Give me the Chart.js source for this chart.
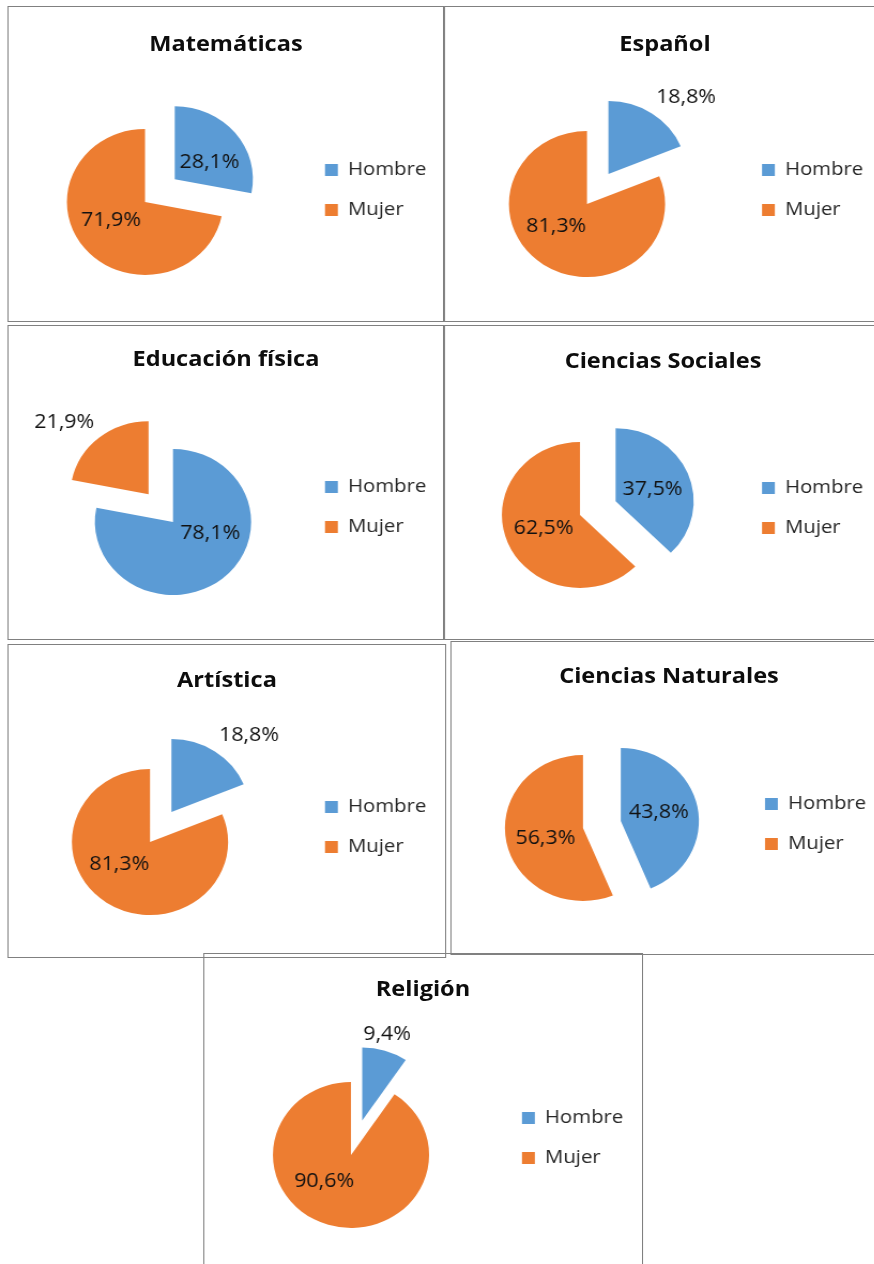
<!doctype html>
<html lang="es">
<head>
<meta charset="utf-8">
<title>Hombre / Mujer por asignatura</title>
<script src="https://cdn.jsdelivr.net/npm/chart.js@4.4.1/dist/chart.umd.min.js"></script>
<style>
	html, body { margin:0; padding:0; background:#fff; }
	body { width:874px; height:1264px; overflow:hidden; font-family:"Open Sans", sans-serif; }
	/* the original picture is a little wider than tall, so the whole sheet is stretched */
	#sheet { position:relative; height:1264px; transform-origin:0 0; }
	.box { position:absolute; box-sizing:border-box; border:1px solid #808080; }
	.title { position:absolute; transform:translate(-50%, -50%); white-space:nowrap; line-height:1;
		font-weight:bold; font-size:22px; color:#0d0d0d; }
	canvas { position:absolute; }
</style>
</head>
<body>
<div id="sheet"></div>
<script>
// data (percent of each group)
const subjects = ['Matemáticas', 'Español', 'Educación física', 'Ciencias Sociales', 'Artística', 'Ciencias Naturales', 'Religión'];
const sexes = ['Hombre', 'Mujer'];
const hombre = [28.1, 18.8, 78.1, 37.5, 18.8, 43.8, 9.4];
const mujer = [71.9, 81.3, 21.9, 62.5, 81.3, 56.3, 90.6];

const blue = '#5B9BD5';
const orange = '#ED7D31';

// page layout (page pixels): frame [left, top, right, bottom], pie centre, legend swatch x, first legend row y, title y
const panels = [
	{ frame:[8, 6, 444, 322],      cx:145, cy:202,  legX:325, legY:170,  titleY:42 },
	{ frame:[444, 6, 886, 322],    cx:587, cy:204,  legX:762, legY:170,  titleY:42 },
	{ frame:[8, 325, 444, 640],    cx:173, cy:522,  legX:325, legY:487,  titleY:357 },
	{ frame:[444, 325, 882, 640],  cx:580, cy:515,  legX:762, legY:488,  titleY:359 },
	{ frame:[8, 644, 446, 958],    cx:150, cy:842,  legX:325, legY:807,  titleY:678 },
	{ frame:[450, 641, 888, 955],  cx:583, cy:828,  legX:765, legY:804,  titleY:674 },
	{ frame:[203, 953, 643, 1270], cx:351, cy:1155, legX:522, legY:1118, titleY:987 }
];

const SX = 1.07;       // horizontal stretch of the sheet
const R = 73;          // pie radius
const EXPLODE = 36;    // how far the small slice is pulled out
const LEG_FONT = 19;
const LEG_PAD = 21;
const BOX = 12;
const FONT = '"Open Sans", sans-serif';

const sheet = document.getElementById('sheet');
sheet.style.width = (874 / SX) + 'px';
sheet.style.transform = 'scaleX(' + SX + ')';

// width the legend will ask for
const measure = document.createElement('canvas').getContext('2d');
measure.font = LEG_FONT + 'px ' + FONT;
const textW = Math.max(...sexes.map(s => measure.measureText(s).width));
const legW = LEG_PAD + BOX + LEG_FONT / 2 + textW + 10;

// pull the smaller slice out along its bisector
const explode = {
	id: 'explode',
	afterDatasetsUpdate(chart, args, opts) {
		const values = chart.data.datasets[0].data;
		const small = values.indexOf(Math.min(...values));
		const arc = chart.getDatasetMeta(0).data[small];
		const mid = (arc.startAngle + arc.endAngle) / 2;
		arc.x += Math.cos(mid) * opts.distance;
		arc.y += Math.sin(mid) * opts.distance;
	}
};

// percentage labels, inside for big slices, outside for small ones
const sliceLabels = {
	id: 'sliceLabels',
	afterDatasetsDraw(chart, args, opts) {
		const ctx = chart.ctx;
		const values = chart.data.datasets[0].data;
		const total = values.reduce((s, v) => s + v, 0);
		ctx.save();
		ctx.font = opts.font;
		ctx.fillStyle = opts.color;
		chart.getDatasetMeta(0).data.forEach((arc, i) => {
			const mid = (arc.startAngle + arc.endAngle) / 2;
			const text = values[i].toFixed(1).replace('.', ',') + '%';
			let x, y;
			if (values[i] / total < 0.25) {
				const d = arc.outerRadius + 7;
				x = arc.x + Math.cos(mid) * d;
				y = arc.y + Math.sin(mid) * d;
				const c = Math.cos(mid);
				ctx.textAlign = Math.abs(c) < 0.5 ? 'center' : (c > 0 ? 'left' : 'right');
				ctx.textBaseline = 'bottom';
			} else {
				// lean toward the wide part of the slice, like Excel's best fit
				const toward = Math.cos(mid) > 0 ? -15 * Math.PI / 180 : 160 * Math.PI / 180;
				const a = (mid + toward) / 2;
				const d = arc.outerRadius * 0.5;
				x = arc.x + Math.cos(a) * d;
				y = arc.y + Math.sin(a) * d;
				ctx.textAlign = 'center';
				ctx.textBaseline = 'middle';
			}
			ctx.fillText(text, x, y);
		});
		ctx.restore();
	}
};

panels.forEach((p, k) => {
	const [l, t, r, b] = p.frame.map((v, i) => i % 2 === 0 ? v / SX : v);
	const cx = p.cx / SX;
	const legX = p.legX / SX;

	const box = document.createElement('div');
	box.className = 'box';
	box.style.left = l + 'px';
	box.style.top = t + 'px';
	box.style.width = (r - l) + 'px';
	box.style.height = (b - t) + 'px';
	sheet.appendChild(box);

	const title = document.createElement('div');
	title.className = 'title';
	title.textContent = subjects[k];
	title.style.left = ((l + r) / 2) + 'px';
	title.style.top = p.titleY + 'px';
	sheet.appendChild(title);

	// chart area runs from the pie's left side to the legend, centred on the pie
	const areaRight = legX - LEG_PAD;
	const areaLeft = 2 * cx - areaRight;
	const areaTop = p.legY - LEG_PAD - LEG_FONT / 2;
	const areaBottom = 2 * p.cy - areaTop;
	const cl = Math.floor(areaLeft - 10);
	const ct = t + 2;
	const cw = Math.ceil(areaRight + legW + 40 - cl);
	const ch = b - 2 - ct;

	const canvas = document.createElement('canvas');
	canvas.width = cw;
	canvas.height = ch;
	canvas.style.left = cl + 'px';
	canvas.style.top = ct + 'px';
	sheet.appendChild(canvas);

	new Chart(canvas, {
		type: 'pie',
		data: {
			labels: sexes,
			datasets: [{
				data: [hombre[k], mujer[k]],
				backgroundColor: [blue, orange],
				borderWidth: 0,
				clip: false
			}]
		},
		options: {
			responsive: false,
			animation: false,
			events: [],
			radius: R,
			layout: { padding: { left: areaLeft - cl, right: cw - (areaRight - cl) - legW, top: areaTop - ct, bottom: ct + ch - areaBottom } },
			plugins: {
				legend: {
					position: 'right',
					align: 'start',
					labels: {
						boxWidth: BOX,
						boxHeight: BOX,
						padding: LEG_PAD,
						color: '#262626',
						font: { family: FONT, size: LEG_FONT }
					}
				},
				tooltip: { enabled: false },
				explode: { distance: EXPLODE },
				sliceLabels: { font: '20px ' + FONT, color: '#111' }
			}
		},
		plugins: [explode, sliceLabels]
	});
});
</script>
</body>
</html>
